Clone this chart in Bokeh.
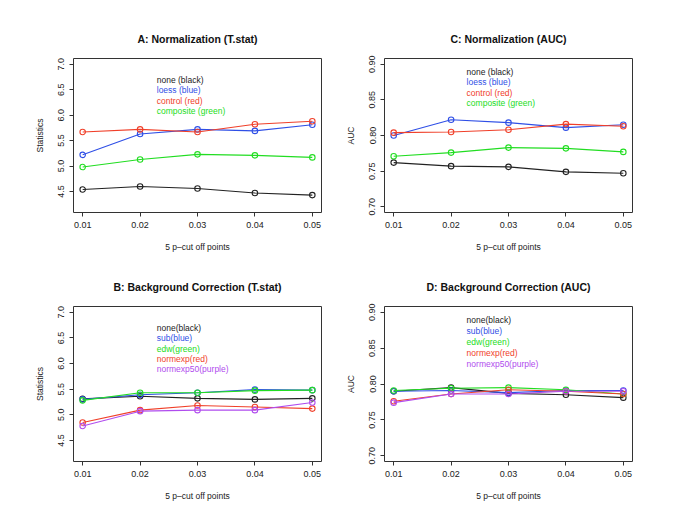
from bokeh.plotting import figure
from bokeh.models import Range1d, FixedTicker
from bokeh.layouts import gridplot
from bokeh.embed import file_html
from bokeh.resources import INLINE
from bokeh.core.properties import value

# ---------------- data ----------------
x_points = [0.01, 0.02, 0.03, 0.04, 0.05]
x_tick_labels = ["0.01", "0.02", "0.03", "0.04", "0.05"]

stat_ticks = [4.5, 5.0, 5.5, 6.0, 6.5, 7.0]
stat_tick_labels = ["4.5", "5.0", "5.5", "6.0", "6.5", "7.0"]
auc_ticks = [0.70, 0.75, 0.80, 0.85, 0.90]
auc_tick_labels = ["0.70", "0.75", "0.80", "0.85", "0.90"]

# A: Normalization (T.stat)
norm_stat_none = [4.54, 4.60, 4.56, 4.47, 4.43]
norm_stat_loess = [5.22, 5.63, 5.72, 5.69, 5.81]
norm_stat_control = [5.67, 5.72, 5.67, 5.82, 5.88]
norm_stat_composite = [4.98, 5.13, 5.23, 5.21, 5.17]

# C: Normalization (AUC)
norm_auc_none = [0.762, 0.757, 0.756, 0.749, 0.747]
norm_auc_loess = [0.800, 0.822, 0.818, 0.811, 0.815]
norm_auc_control = [0.804, 0.805, 0.808, 0.816, 0.813]
norm_auc_composite = [0.771, 0.776, 0.783, 0.782, 0.777]

# B: Background Correction (T.stat)
bg_stat_none = [5.31, 5.36, 5.32, 5.30, 5.32]
bg_stat_sub = [5.30, 5.39, 5.43, 5.49, 5.48]
bg_stat_edw = [5.28, 5.43, 5.43, 5.47, 5.48]
bg_stat_normexp = [4.85, 5.09, 5.18, 5.15, 5.12]
bg_stat_normexp50 = [4.78, 5.07, 5.09, 5.09, 5.24]

# D: Background Correction (AUC)
bg_auc_none = [0.790, 0.795, 0.787, 0.785, 0.781]
bg_auc_sub = [0.790, 0.791, 0.788, 0.791, 0.791]
bg_auc_edw = [0.791, 0.794, 0.795, 0.792, 0.786]
bg_auc_normexp = [0.776, 0.786, 0.792, 0.790, 0.786]
bg_auc_normexp50 = [0.774, 0.786, 0.786, 0.790, 0.790]

norm_labels = ["none (black)", "loess (blue)", "control (red)", "composite (green)"]
bg_labels = ["none(black)", "sub(blue)", "edw(green)", "normexp(red)", "normexp50(purple)"]

# ---------------- style ----------------
FONT = "Liberation Sans"
BLACK = "#222222"
BLUE = "#2f4fe6"
RED = "#f0402a"
GREEN = "#22dd22"
PURPLE = "#b04cee"


def make_fig(title, ylabel, yr, yticks, ylabels, w, h, bl, br, bt, bb):
    p = figure(width=w, height=h,
               x_range=Range1d(0.0084, 0.0516), y_range=Range1d(*yr),
               output_backend="svg", toolbar_location=None,
               min_border_left=bl, min_border_right=br,
               min_border_top=bt, min_border_bottom=bb,
               title=title)
    p.background_fill_color = "white"
    p.border_fill_color = "white"
    p.outline_line_color = "#333333"
    p.outline_line_width = 1
    p.xgrid.visible = False
    p.ygrid.visible = False

    p.title.text_font = FONT
    p.title.text_font_size = "10.5px"
    p.title.text_font_style = "bold"
    p.title.align = "center"
    p.title.standoff = 27
    p.title.text_color = "#111111"

    xa = p.xaxis[0]
    xa.ticker = FixedTicker(ticks=x_points)
    xa.major_label_overrides = {t: l for t, l in zip(x_points, x_tick_labels)}
    xa.bounds = (x_points[0], x_points[-1])
    xa.axis_label = "5 p\u2013cut off points"

    ya = p.yaxis[0]
    ya.ticker = FixedTicker(ticks=yticks)
    ya.major_label_overrides = {t: l for t, l in zip(yticks, ylabels)}
    ya.bounds = (yticks[0], yticks[-1])
    ya.axis_label = ylabel
    ya.major_label_orientation = "vertical"

    for ax in (xa, ya):
        ax.minor_tick_line_color = None
        ax.major_tick_in = 0
        ax.major_tick_out = 4
        ax.major_tick_line_color = "#333333"
        ax.axis_line_color = "#333333"
        ax.major_label_text_font = FONT
        ax.major_label_text_font_size = "9px"
        ax.major_label_text_color = "#222222"
        ax.major_label_standoff = 5
        ax.axis_label_text_font = FONT
        ax.axis_label_text_font_size = "8.5px"
        ax.axis_label_text_font_style = "normal"
        ax.axis_label_text_color = "#222222"
    xa.axis_label_standoff = 11
    ya.axis_label_standoff = 11
    return p


def add_series(p, ys, color):
    p.line(x_points, ys, line_color=color, line_width=1.1)
    p.scatter(x_points, ys, marker="circle", size=5.5, fill_color=None,
              line_color=color, line_width=1.1)


def add_legend(p, labels, colors, x0, y0, step):
    ys = [y0 - i * step for i in range(len(labels))]
    p.text([x0] * len(labels), ys, text=labels, text_color=colors,
           text_font=value(FONT), text_font_size="8.5px",
           text_baseline="middle", text_align="left")


# A
pA = make_fig("A: Normalization (T.stat)", "Statistics", (4.088, 7.112),
              stat_ticks, stat_tick_labels, 342, 256, 73, 21, 58, 44)
for ys, c in [(norm_stat_none, BLACK), (norm_stat_loess, BLUE),
              (norm_stat_control, RED), (norm_stat_composite, GREEN)]:
    add_series(pA, ys, c)
add_legend(pA, norm_labels, [BLACK, BLUE, RED, GREEN], 0.0229, 6.69, 0.2026)

# C
pC = make_fig("C: Normalization (AUC)", "AUC", (0.692, 0.908),
              auc_ticks, auc_tick_labels, 335, 256, 42, 45, 58, 44)
for ys, c in [(norm_auc_none, BLACK), (norm_auc_loess, BLUE),
              (norm_auc_control, RED), (norm_auc_composite, GREEN)]:
    add_series(pC, ys, c)
add_legend(pC, norm_labels, [BLACK, BLUE, RED, GREEN], 0.0227, 0.8897, 0.01487)

# B
pB = make_fig("B: Background Correction (T.stat)", "Statistics", (4.088, 7.112),
              stat_ticks, stat_tick_labels, 342, 265, 73, 21, 50, 60)
for ys, c in [(bg_stat_none, BLACK), (bg_stat_sub, BLUE), (bg_stat_edw, GREEN),
              (bg_stat_normexp, RED), (bg_stat_normexp50, PURPLE)]:
    add_series(pB, ys, c)
add_legend(pB, bg_labels, [BLACK, BLUE, GREEN, RED, PURPLE], 0.0229, 6.69, 0.2007)

# D
pD = make_fig("D: Background Correction (AUC)", "AUC", (0.692, 0.908),
              auc_ticks, auc_tick_labels, 335, 265, 42, 45, 50, 60)
for ys, c in [(bg_auc_none, BLACK), (bg_auc_sub, BLUE), (bg_auc_edw, GREEN),
              (bg_auc_normexp, RED), (bg_auc_normexp50, PURPLE)]:
    add_series(pD, ys, c)
add_legend(pD, bg_labels, [BLACK, BLUE, GREEN, RED, PURPLE], 0.0227, 0.8898, 0.01543)

grid = gridplot([[pA, pC], [pB, pD]], toolbar_location=None)

open("out.html", "w").write(file_html(grid, INLINE))
